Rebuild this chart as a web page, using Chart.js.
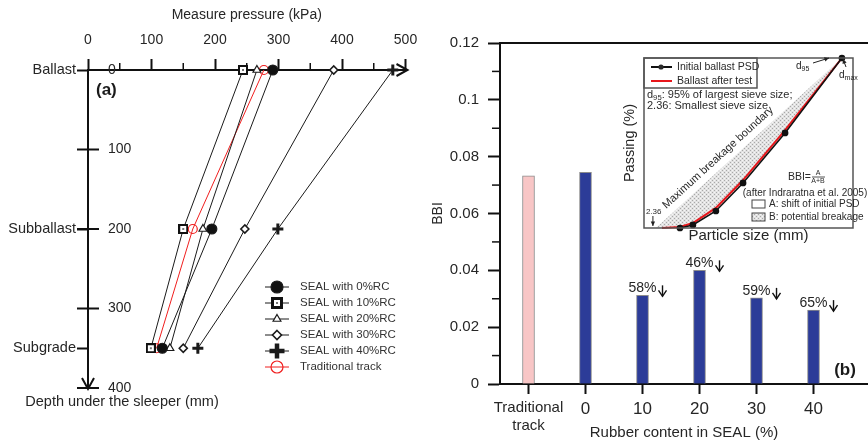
<!DOCTYPE html>
<html>
<head>
<meta charset="utf-8">
<title>Pressure and breakage</title>
<script src="https://cdn.jsdelivr.net/npm/chart.js@4.4.1/dist/chart.umd.min.js"></script>
<style>
  body { margin: 0; background: #fff; }
  #wrap { position: relative; width: 868px; height: 442px; }
  #wrap canvas { position: absolute; }
</style>
</head>
<body>
<div id="wrap">
  <canvas id="pressure" width="430" height="442" style="left:0;top:0"></canvas>
  <canvas id="bbi" width="438" height="442" style="left:430px;top:0"></canvas>
  <canvas id="psd" width="248" height="197" style="left:620px;top:48px"></canvas>
</div>
<script>
// (a) measured pressure at each layer
const layerNames = ['Ballast', 'Subballast', 'Subgrade'];
const layerDepth = [0, 200, 350];
const depthTicks = [0, 100, 200, 300, 400];
const pressureTicks = [0, 100, 200, 300, 400, 500];
const seal0 = [291, 195, 117];
const seal10 = [244, 150, 99];
const seal20 = [266, 181, 129];
const seal30 = [387, 247, 150];
const seal40 = [480, 299, 173];
const traditional = [277, 165, 108];

// (b) ballast breakage index
const bbiLabels = [['Traditional', 'track'], '0', '10', '20', '30', '40'];
const bbiValues = [0.0733, 0.0745, 0.0312, 0.0400, 0.0303, 0.0260];
const bbiDrop = ['', '', '58%', '46%', '59%', '65%'];
const bbiTicks = [0, 0.02, 0.04, 0.06, 0.08, 0.1, 0.12];

// inset: schematic PSD curves (axes have no units)
const initSize = [17.2, 23.4, 34.4, 47.4, 67.5, 94.7];
const initPass = [0, 1.8, 10, 26.5, 55.9, 100];
const afterSize = [8.6, 17.2, 23.4, 34.4, 47.4, 67.5, 94.7];
const afterPass = [0, 0.6, 2.9, 11.8, 28.2, 57.6, 100];
const boundSize = [5.7, 94.7];
const boundPass = [0, 100];

const FONT = "'Liberation Sans', Arial, sans-serif";
Chart.defaults.font.family = FONT;
Chart.defaults.color = '#262626';
const f = (s, w) => (w ? w + ' ' : '') + s + 'px ' + FONT;

function squareMark(s) {
  const c = document.createElement('canvas');
  c.width = s; c.height = s;
  const g = c.getContext('2d');
  g.fillStyle = '#111'; g.fillRect(0, 0, s, s);
  const b = Math.round(s * 0.22);
  g.fillStyle = '#fff'; g.fillRect(b, b, s - 2 * b, s - 2 * b);
  const m = Math.round(s * 0.38);
  g.fillStyle = '#777'; g.fillRect(m, m, s - 2 * m, s - 2 * m);
  return c;
}

function dotPattern() {
  const t = document.createElement('canvas');
  t.width = 4; t.height = 4;
  const g = t.getContext('2d');
  g.fillStyle = '#e2e2e2'; g.fillRect(0, 0, 4, 4);
  g.fillStyle = '#a8a8a8'; g.fillRect(0, 0, 1, 1); g.fillRect(2, 2, 1, 1);
  g.fillStyle = '#f6f6f6'; g.fillRect(2, 0, 1, 1); g.fillRect(0, 2, 1, 1);
  return g.createPattern(t, 'repeat');
}
const grayDots = dotPattern();

const toPts = arr => arr.map((p, i) => ({x: p, y: layerDepth[i]}));

function series(label, vals, o) {
  return Object.assign({
    label: label, data: toPts(vals), showLine: true, clip: false,
    borderColor: '#1a1a1a', borderWidth: 1,
    pointBackgroundColor: '#fff', pointBorderColor: '#1a1a1a', pointBorderWidth: 1.2
  }, o);
}

const pressureSets = [
  series('SEAL with 0%RC', seal0, {pointStyle: 'circle', pointRadius: 5, pointBackgroundColor: '#111', legendRadius: 6}),
  series('SEAL with 10%RC', seal10, {pointStyle: squareMark(10), pointRadius: 5, legendRadius: 6}),
  series('SEAL with 20%RC', seal20, {pointStyle: 'triangle', pointRadius: 4.5, legendRadius: 4.5}),
  series('SEAL with 30%RC', seal30, {pointStyle: 'rectRot', pointRadius: 4, pointBorderWidth: 1.6, legendRadius: 4.5}),
  series('SEAL with 40%RC', seal40, {pointStyle: 'cross', pointRadius: 5.5, pointBorderWidth: 3, legendRadius: 7.5, legendWidth: 4.5}),
  series('Traditional track', traditional, {pointStyle: 'circle', pointRadius: 4.5, borderColor: '#f01e1e',
    pointBorderColor: '#f01e1e', pointBackgroundColor: 'rgba(0,0,0,0)', legendRadius: 6})
];

function drawMark(ctx, ds, x, y) {
  const r = ds.legendRadius;
  const st = ds.pointStyle;
  ctx.save();
  ctx.lineWidth = ds.pointBorderWidth;
  ctx.strokeStyle = ds.pointBorderColor;
  ctx.fillStyle = ds.pointBackgroundColor;
  ctx.beginPath();
  if (typeof st !== 'string') {
    ctx.drawImage(squareMark(2 * r), Math.round(x - r), Math.round(y - r));
  } else if (st === 'circle') {
    ctx.arc(x, y, r, 0, Math.PI * 2); ctx.fill(); ctx.stroke();
  } else if (st === 'triangle') {
    ctx.moveTo(x, y - r); ctx.lineTo(x + r * 0.87, y + r * 0.5); ctx.lineTo(x - r * 0.87, y + r * 0.5);
    ctx.closePath(); ctx.fill(); ctx.stroke();
  } else if (st === 'rectRot') {
    ctx.moveTo(x, y - r); ctx.lineTo(x + r, y); ctx.lineTo(x, y + r); ctx.lineTo(x - r, y);
    ctx.closePath(); ctx.fill(); ctx.stroke();
  } else if (st === 'cross') {
    ctx.lineWidth = ds.legendWidth;
    ctx.moveTo(x - r, y); ctx.lineTo(x + r, y); ctx.moveTo(x, y - r); ctx.lineTo(x, y + r); ctx.stroke();
  }
  ctx.restore();
}

function seg(ctx, x1, y1, x2, y2) {
  ctx.beginPath(); ctx.moveTo(x1, y1); ctx.lineTo(x2, y2); ctx.stroke();
}

const pressureDecor = {
  id: 'pressureDecor',
  afterDraw(chart) {
    const {ctx, chartArea: a, scales: {x, y}} = chart;
    ctx.save();
    ctx.strokeStyle = '#111';
    ctx.lineWidth = 1.5;
    for (let v = 50; v < 500; v += 100) {
      const px = x.getPixelForValue(v);
      seg(ctx, px, a.top, px, a.top - 7);
    }
    ctx.lineWidth = 2;
    depthTicks.slice(1).forEach(d => {
      const py = y.getPixelForValue(d);
      seg(ctx, a.left - 11, py, a.left + 11, py);
    });
    // arrow heads
    ctx.beginPath();
    ctx.moveTo(a.right - 9, a.top - 6); ctx.lineTo(a.right + 2, a.top); ctx.lineTo(a.right - 9, a.top + 6);
    ctx.moveTo(a.left - 6, a.bottom - 10); ctx.lineTo(a.left, a.bottom + 1); ctx.lineTo(a.left + 6, a.bottom - 10);
    ctx.stroke();

    ctx.fillStyle = '#1a1a1a';
    ctx.textBaseline = 'middle';
    ctx.font = f(17, 'bold');
    ctx.fillText('(a)', a.left + 8, a.top + 20);
    ctx.fillStyle = '#262626';
    ctx.font = f(14.5);
    ctx.textAlign = 'center';
    ctx.fillText('Depth under the sleeper (mm)', 122, a.bottom + 14);

    // legend
    ctx.textAlign = 'left';
    ctx.font = f(11.5);
    chart.data.datasets.forEach((ds, i) => {
      const ly = 287 + i * 16;
      ctx.strokeStyle = ds.borderColor;
      ctx.lineWidth = 1;
      seg(ctx, 265, ly, 289, ly);
      drawMark(ctx, ds, 277, ly);
      ctx.fillStyle = '#333';
      ctx.fillText(ds.label, 300, ly);
    });
    ctx.restore();
  }
};

new Chart(document.getElementById('pressure'), {
  type: 'scatter',
  data: {datasets: pressureSets},
  options: {
    responsive: false,
    animation: false,
    layout: {padding: {top: 0, right: 24.5, bottom: 54, left: 0}},
    plugins: {legend: {display: false}, tooltip: {enabled: false}},
    elements: {point: {hitRadius: 0}},
    scales: {
      x: {
        type: 'linear', position: 'top', min: 0, max: 500,
        afterBuildTicks: s => { s.ticks = pressureTicks.map(v => ({value: v})); },
        afterFit: s => { s.height = 70; },
        grid: {drawOnChartArea: false, tickLength: 11, tickWidth: 2, tickColor: '#111'},
        border: {color: '#111', width: 2},
        ticks: {padding: 10, font: {size: 14}, maxRotation: 0},
        title: {display: true, text: 'Measure pressure (kPa)', font: {size: 14}, padding: {top: 7, bottom: 0}}
      },
      y: {
        type: 'linear', position: 'left', reverse: true, min: 0, max: 400, weight: 5,
        afterBuildTicks: s => { s.ticks = layerDepth.map(v => ({value: v})); },
        afterFit: s => { s.width = 88; },
        grid: {drawOnChartArea: false, tickLength: 11, tickWidth: 2, tickColor: '#111'},
        border: {color: '#111', width: 2},
        ticks: {padding: 1, font: {size: 14.5}, callback: (v, i) => layerNames[i]}
      },
      yDepth: {
        type: 'linear', position: 'left', reverse: true, min: 0, max: 400, weight: 0,
        afterBuildTicks: s => { s.ticks = depthTicks.map(v => ({value: v})); },
        afterFit: s => { s.width = 0; },
        grid: {display: false, drawTicks: false},
        border: {display: false},
        ticks: {mirror: true, padding: 20, font: {size: 14}}
      }
    }
  },
  plugins: [pressureDecor]
});

const bbiDecor = {
  id: 'bbiDecor',
  afterDraw(chart) {
    const {ctx, chartArea: a, scales: {x, y}} = chart;
    ctx.save();
    ctx.strokeStyle = '#111';
    ctx.lineWidth = 2;
    const top = y.getPixelForValue(bbiTicks[bbiTicks.length - 1]);
    seg(ctx, a.left, top, a.right, top);
    ctx.lineWidth = 1.5;
    for (let i = 0; i < bbiTicks.length - 1; i++) {
      const py = y.getPixelForValue((bbiTicks[i] + bbiTicks[i + 1]) / 2);
      seg(ctx, a.left - 8, py, a.left, py);
    }
    ctx.font = f(14);
    ctx.fillStyle = '#262626';
    ctx.textAlign = 'center';
    ctx.textBaseline = 'middle';
    bbiDrop.forEach((t, i) => {
      if (!t) return;
      const px = x.getPixelForValue(i);
      const py = y.getPixelForValue(bbiValues[i]) - 7;
      ctx.fillText(t, px, py);
      const ax = px + ctx.measureText(t).width / 2 + 6;
      ctx.lineWidth = 1.4;
      seg(ctx, ax, py - 3, ax, py + 8);
      ctx.beginPath();
      ctx.moveTo(ax - 4, py + 2); ctx.lineTo(ax, py + 8); ctx.lineTo(ax + 4, py + 2);
      ctx.stroke();
    });
    ctx.font = f(17, 'bold');
    ctx.fillStyle = '#1a1a1a';
    ctx.fillText('(b)', a.right - 23, a.bottom - 14);
    ctx.restore();
  }
};

new Chart(document.getElementById('bbi'), {
  type: 'bar',
  data: {
    datasets: [{
      data: bbiValues.map((v, i) => ({x: i, y: v})),
      backgroundColor: bbiValues.map((v, i) => i === 0 ? '#f8c6c6' : '#2c3c98'),
      borderColor: '#8c8c8c',
      borderWidth: 1,
      barThickness: 12
    }]
  },
  options: {
    responsive: false,
    animation: false,
    layout: {padding: {top: 43, right: 0, bottom: 0, left: 0}},
    plugins: {legend: {display: false}, tooltip: {enabled: false}},
    scales: {
      x: {
        type: 'linear', min: -0.5, max: 5.956, offset: false,
        afterBuildTicks: s => { s.ticks = bbiLabels.map((l, i) => ({value: i})); },
        afterFit: s => { s.height = 58; },
        grid: {drawOnChartArea: false, offset: false, tickLength: 10, tickWidth: 2, tickColor: '#111'},
        border: {color: '#111', width: 2},
        ticks: {padding: 5, maxRotation: 0, minRotation: 0, autoSkip: false,
          font: c => ({size: c.index === 0 ? 15 : 17}), callback: (v, i) => bbiLabels[i]},
        title: {display: true, text: 'Rubber content in SEAL (%)', font: {size: 15}, padding: {top: 0, bottom: 0}}
      },
      y: {
        min: 0, max: 0.12,
        afterBuildTicks: s => { s.ticks = bbiTicks.map(v => ({value: v})); },
        afterFit: s => { s.width = 70; },
        grid: {drawOnChartArea: false, tickLength: 12, tickWidth: 2, tickColor: '#111'},
        border: {color: '#111', width: 2},
        ticks: {padding: 9, font: {size: 15}, callback: v => String(+v.toFixed(2))},
        title: {display: true, text: 'BBI', font: {size: 14}, padding: {top: 0, bottom: 0}}
      }
    }
  },
  plugins: [bbiDecor]
});

function subText(ctx, base, sub, rest, x, y, size) {
  ctx.font = f(size);
  ctx.fillText(base, x, y);
  let cx = x + ctx.measureText(base).width;
  ctx.font = f(size * 0.7);
  ctx.fillText(sub, cx, y + size * 0.3);
  cx += ctx.measureText(sub).width;
  if (rest) { ctx.font = f(size); ctx.fillText(rest, cx, y); }
}

function arrowTo(ctx, x1, y1, x2, y2) {
  seg(ctx, x1, y1, x2, y2);
  const ang = Math.atan2(y2 - y1, x2 - x1);
  ctx.beginPath();
  ctx.moveTo(x2, y2);
  ctx.lineTo(x2 - 5 * Math.cos(ang - 0.45), y2 - 5 * Math.sin(ang - 0.45));
  ctx.lineTo(x2 - 5 * Math.cos(ang + 0.45), y2 - 5 * Math.sin(ang + 0.45));
  ctx.closePath();
  ctx.fill();
}

const psdDecor = {
  id: 'psdDecor',
  beforeDraw(chart) {
    const {ctx, chartArea: a} = chart;
    ctx.save();
    ctx.fillStyle = '#fff';
    ctx.fillRect(a.left, a.top, a.width, a.height);
    ctx.restore();
  },
  afterDraw(chart) {
    const {ctx, chartArea: a, scales: {x, y}} = chart;
    ctx.save();
    ctx.strokeStyle = '#555';
    ctx.lineWidth = 1.5;
    ctx.strokeRect(a.left, a.top, a.width, a.height);
    ctx.strokeRect(a.left, a.top, 113, 30);

    ctx.textBaseline = 'middle';
    ctx.textAlign = 'left';
    ctx.fillStyle = '#2a2a2a';
    // legend
    ctx.strokeStyle = '#111'; ctx.lineWidth = 2;
    seg(ctx, a.left + 7, a.top + 9, a.left + 28, a.top + 9);
    ctx.beginPath(); ctx.arc(a.left + 17, a.top + 9, 2.6, 0, Math.PI * 2); ctx.fill();
    ctx.strokeStyle = '#e8161b';
    seg(ctx, a.left + 7, a.top + 23, a.left + 28, a.top + 23);
    ctx.font = f(10.5);
    ctx.fillText('Initial ballast PSD', a.left + 33, a.top + 9);
    ctx.fillText('Ballast after test', a.left + 33, a.top + 23);
    subText(ctx, 'd', '95', ': 95% of largest sieve size;', a.left + 3, a.top + 37, 11);
    ctx.font = f(11);
    ctx.fillText('2.36: Smallest sieve size', a.left + 3, a.top + 48);

    // boundary label along the diagonal
    const p1x = x.getPixelForValue(boundSize[0]), p1y = y.getPixelForValue(boundPass[0]);
    const p2x = x.getPixelForValue(boundSize[1]), p2y = y.getPixelForValue(boundPass[1]);
    const ang = Math.atan2(p2y - p1y, p2x - p1x);
    const cx = p1x + 0.37 * (p2x - p1x) + 10 * Math.sin(ang);
    const cy = p1y + 0.37 * (p2y - p1y) - 10 * Math.cos(ang);
    ctx.save();
    ctx.translate(cx, cy); ctx.rotate(ang);
    ctx.textAlign = 'center';
    ctx.font = f(11);
    ctx.fillText('Maximum breakage boundary', 0, 0);
    ctx.restore();

    // BBI formula
    ctx.textAlign = 'right';
    ctx.font = f(10.5);
    ctx.fillText('BBI=', 191, 129);
    ctx.textAlign = 'center';
    ctx.font = f(7);
    ctx.fillText('A', 198, 125);
    ctx.fillText('A+B', 198, 133);
    ctx.lineWidth = 0.8; ctx.strokeStyle = '#2a2a2a';
    seg(ctx, 192, 129, 205, 129);
    ctx.font = f(10);
    ctx.fillText('(after Indraratna et al. 2005)', 185, 145);
    ctx.textAlign = 'left';
    ctx.fillStyle = '#fff'; ctx.strokeStyle = '#444'; ctx.lineWidth = 1;
    ctx.fillRect(132, 152, 13, 8); ctx.strokeRect(132, 152, 13, 8);
    ctx.fillStyle = grayDots;
    ctx.fillRect(132, 165, 13, 8); ctx.strokeRect(132, 165, 13, 8);
    ctx.fillStyle = '#2a2a2a';
    ctx.fillText('A: shift of initial PSD', 149, 156);
    ctx.fillText('B: potential breakage', 149, 169);

    // sieve size markers
    ctx.font = f(8);
    ctx.fillText('2.36', p1x - 10, 164);
    ctx.strokeStyle = '#222'; ctx.fillStyle = '#222';
    arrowTo(ctx, p1x - 3, 168, p1x - 3, a.bottom - 2);
    subText(ctx, 'd', '95', '', 176, 18, 10);
    arrowTo(ctx, 193, 15, 209, 10);
    subText(ctx, 'd', 'max', '', 219, 27, 10);
    arrowTo(ctx, 226, 19, 223, 11);
    ctx.restore();
  }
};

const polySize = boundSize.concat(initSize.slice().reverse());
const polyPass = boundPass.concat(initPass.slice().reverse());

new Chart(document.getElementById('psd'), {
  type: 'scatter',
  data: {
    datasets: [
      {data: polySize.map((v, i) => ({x: v, y: polyPass[i]})), showLine: true, fill: 'shape',
        backgroundColor: grayDots, borderColor: 'rgba(0,0,0,0)', borderWidth: 0, pointRadius: 0, order: 3},
      {data: afterSize.map((v, i) => ({x: v, y: afterPass[i]})), showLine: true, clip: false,
        borderColor: '#e8161b', borderWidth: 2, pointRadius: 0, order: 2},
      {data: initSize.map((v, i) => ({x: v, y: initPass[i]})), showLine: true, clip: false,
        borderColor: '#111', borderWidth: 1.5, pointRadius: 2.6, pointBackgroundColor: '#111',
        pointBorderColor: '#111', order: 1}
    ]
  },
  options: {
    responsive: false,
    animation: false,
    layout: {padding: {top: 10, right: 15, bottom: 0, left: 0}},
    plugins: {legend: {display: false}, tooltip: {enabled: false}},
    scales: {
      x: {
        type: 'linear', min: 0, max: 100,
        afterFit: s => { s.height = 17; },
        grid: {display: false}, border: {display: false}, ticks: {display: false},
        title: {display: true, text: 'Particle size (mm)', font: {size: 15}, padding: 0}
      },
      y: {
        type: 'linear', min: 0, max: 100,
        afterFit: s => { s.width = 24; },
        grid: {display: false}, border: {display: false}, ticks: {display: false},
        title: {display: true, text: 'Passing (%)', font: {size: 14.5}, padding: {top: 1, bottom: 0}}
      }
    }
  },
  plugins: [psdDecor]
});
</script>
</body>
</html>
